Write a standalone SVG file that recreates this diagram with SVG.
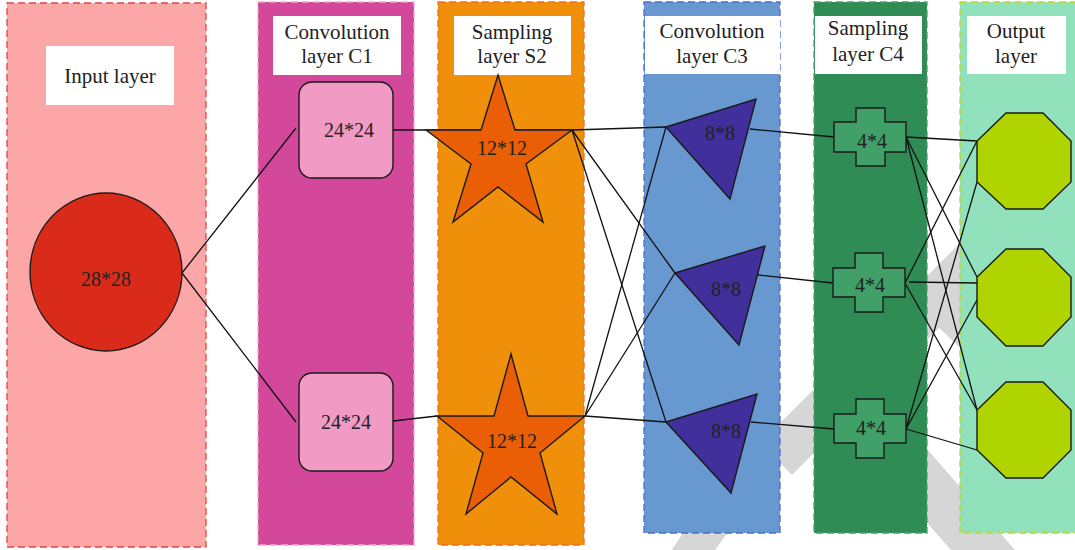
<svg xmlns="http://www.w3.org/2000/svg" width="1075" height="550" viewBox="0 0 1075 550">
  <style>
    .lbl { font-family: "Liberation Serif", "Times New Roman", serif; font-size: 21px; fill: #222; text-anchor: middle; }
    .val { font-family: "Liberation Serif", "Times New Roman", serif; font-size: 20px; fill: #222; text-anchor: middle; }
    .panel { stroke-width: 1.3; stroke-dasharray: 7 4; }
    .box { fill: #ffffff; }
    .node { stroke: #1a1a1a; stroke-width: 1.4; stroke-linejoin: miter; }
    .wire { stroke: #111; stroke-width: 1.3; fill: none; }
    .mark { fill: #d6d6d6; }
  </style>

  <rect width="1075" height="550" fill="#ffffff"/>

  <!-- faint background mark -->
  <g id="backdrop-mark">
    <polygon class="mark" points="668,556 711,556 764,480 717,480"/>
    <polygon class="mark" points="760,443 792,475 980,287 980,223"/>
    <polygon class="mark" points="928,296 928,317 960,348 980,348 980,280"/>
    <polygon class="mark" points="880,395 1022,558 958,558 880,469"/>
  </g>

  <!-- layer columns -->
  <g id="panel-input">
    <rect class="panel" x="7" y="3" width="199" height="544" fill="#fca6a8" stroke="#e0483e"/>
    <rect class="box" x="46" y="46" width="128" height="59"/>
    <text class="lbl" x="110" y="83">Input layer</text>
  </g>
  <g id="panel-c1">
    <rect class="panel" x="258" y="2" width="156" height="543" fill="#d4489c" stroke="#f2a6cc"/>
    <rect class="box" x="273" y="16" width="128" height="59"/>
    <text class="lbl" x="337" y="39">Convolution</text>
    <text class="lbl" x="337" y="63">layer C1</text>
  </g>
  <g id="panel-s2">
    <rect class="panel" x="438" y="2" width="146" height="543" fill="#f0900a" stroke="#f06a28"/>
    <rect class="box" x="454" y="16" width="117" height="59"/>
    <text class="lbl" x="512" y="39">Sampling</text>
    <text class="lbl" x="512" y="63">layer S2</text>
  </g>
  <g id="panel-c3">
    <rect class="panel" x="644" y="2" width="136" height="531" fill="#6898d0" stroke="#4c6cc8"/>
    <rect class="box" x="645" y="16" width="135" height="58"/>
    <text class="lbl" x="712" y="38">Convolution</text>
    <text class="lbl" x="712" y="63">layer C3</text>
  </g>
  <g id="panel-c4">
    <rect class="panel" x="814" y="2" width="113" height="531" fill="#2f8c55" stroke="#4aa070"/>
    <rect class="box" x="815" y="16" width="107" height="58"/>
    <text class="lbl" x="868" y="35">Sampling</text>
    <text class="lbl" x="868" y="61">layer C4</text>
  </g>
  <g id="panel-output">
    <rect class="panel" x="960" y="2" width="125" height="531" fill="#90e1bc" stroke="#c4d61c"/>
    <rect class="box" x="967" y="16" width="99" height="58"/>
    <text class="lbl" x="1016" y="38">Output</text>
    <text class="lbl" x="1016" y="63">layer</text>
  </g>

  <!-- connectors -->
  <g id="connectors">
    <line class="wire" x1="182" y1="273" x2="296" y2="128"/>
    <line class="wire" x1="182" y1="273" x2="296" y2="422"/>
    <line class="wire" x1="393" y1="130" x2="572" y2="130"/>
    <line class="wire" x1="393" y1="421" x2="437" y2="416"/>
    <line class="wire" x1="572" y1="130" x2="666" y2="127"/>
    <line class="wire" x1="572" y1="130" x2="675" y2="273"/>
    <line class="wire" x1="572" y1="130" x2="666" y2="422"/>
    <line class="wire" x1="585" y1="416" x2="666" y2="127"/>
    <line class="wire" x1="585" y1="416" x2="675" y2="273"/>
    <line class="wire" x1="585" y1="416" x2="666" y2="422"/>
    <line class="wire" x1="750" y1="129" x2="834" y2="137"/>
    <line class="wire" x1="758" y1="275" x2="833" y2="283"/>
    <line class="wire" x1="751" y1="422" x2="834" y2="429"/>
    <line class="wire" x1="906" y1="137" x2="977" y2="141"/>
    <line class="wire" x1="906" y1="137" x2="977" y2="277"/>
    <line class="wire" x1="906" y1="137" x2="977" y2="410"/>
    <line class="wire" x1="905" y1="283" x2="977" y2="141"/>
    <line class="wire" x1="909" y1="282" x2="977" y2="283"/>
    <line class="wire" x1="905" y1="283" x2="977" y2="410"/>
    <line class="wire" x1="906" y1="429" x2="977" y2="182"/>
    <line class="wire" x1="906" y1="429" x2="977" y2="300"/>
    <line class="wire" x1="906" y1="429" x2="977" y2="450"/>
  </g>

  <!-- input node -->
  <g id="node-input">
    <ellipse class="node" cx="106" cy="272" rx="76" ry="79" fill="#da2b1a"/>
    <text class="val" x="106" y="286">28*28</text>
  </g>

  <!-- convolution C1 nodes -->
  <g id="node-c1-a">
    <rect class="node" x="299" y="82" width="94" height="96" rx="13" fill="#f09ac4"/>
    <text class="val" x="349" y="137">24*24</text>
  </g>
  <g id="node-c1-b">
    <rect class="node" x="299" y="373" width="94" height="98" rx="13" fill="#f09ac4"/>
    <text class="val" x="346" y="429">24*24</text>
  </g>

  <!-- sampling S2 nodes -->
  <g id="node-s2-a">
    <polygon class="node" fill="#ea5e05" points="498,75 515,130 572,130 526,164 543,222 498,187 453,222 471,164 426,130 481,130"/>
    <text class="val" x="502" y="155">12*12</text>
  </g>
  <g id="node-s2-b">
    <polygon class="node" fill="#ea5e05" points="511,354 528,416 585,416 540,453 557,514 511,477 466,514 483,453 437,416 494,416"/>
    <text class="val" x="512" y="448">12*12</text>
  </g>

  <!-- convolution C3 nodes -->
  <g id="node-c3-a">
    <polygon class="node" fill="#41309c" points="666,127 756,99 730,199"/>
    <text class="val" x="720" y="140">8*8</text>
  </g>
  <g id="node-c3-b">
    <polygon class="node" fill="#41309c" points="675,273 765,246 739,345"/>
    <text class="val" x="726" y="296">8*8</text>
  </g>
  <g id="node-c3-c">
    <polygon class="node" fill="#41309c" points="666,422 757,394 731,493"/>
    <text class="val" x="726" y="438">8*8</text>
  </g>

  <!-- sampling C4 nodes -->
  <g id="node-c4-a">
    <polygon class="node" fill="#40a068" points="856,108 885,108 885,122 906,122 906,152 885,152 885,166 856,166 856,152 834,152 834,122 856,122"/>
    <text class="val" x="872" y="148">4*4</text>
  </g>
  <g id="node-c4-b">
    <polygon class="node" fill="#40a068" points="855,253 883,253 883,268 905,268 905,297 883,297 883,312 855,312 855,297 833,297 833,268 855,268"/>
    <text class="val" x="870" y="292">4*4</text>
  </g>
  <g id="node-c4-c">
    <polygon class="node" fill="#40a068" points="856,399 884,399 884,414 906,414 906,443 884,443 884,458 856,458 856,443 834,443 834,414 856,414"/>
    <text class="val" x="871" y="435">4*4</text>
  </g>

  <!-- output nodes -->
  <g id="node-out-a">
    <polygon class="node" fill="#b0d400" points="1006,113 1043,113 1071,141 1071,182 1043,209 1006,209 977,182 977,141"/>
  </g>
  <g id="node-out-b">
    <polygon class="node" fill="#b0d400" points="1006,249 1043,249 1071,277 1071,317 1043,346 1006,346 977,317 977,277"/>
  </g>
  <g id="node-out-c">
    <polygon class="node" fill="#b0d400" points="1006,382 1043,382 1071,410 1071,450 1043,478 1006,478 977,450 977,410"/>
  </g>
</svg>
